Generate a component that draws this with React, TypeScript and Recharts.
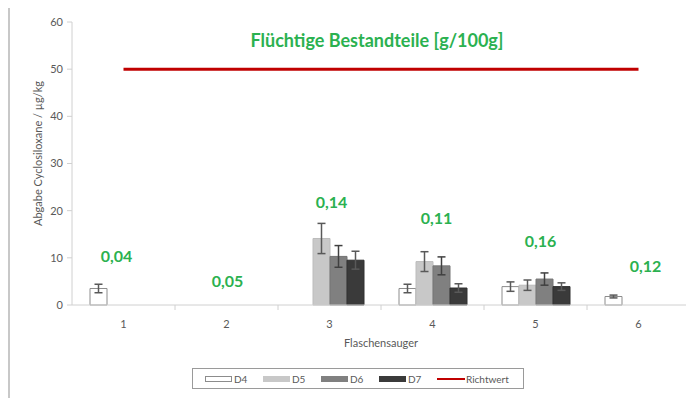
import React from "react";
import {
  Bar,
  ComposedChart,
  ErrorBar,
  LabelList,
  Legend,
  Line,
  XAxis,
  YAxis,
} from "recharts";

const categories = ["1", "2", "3", "4", "5", "6"];
const d4 = [3.5, null, null, 3.5, 3.9, 1.8];
const d4Err = [0.9, null, null, 0.9, 1.0, 0.3];
const d5 = [null, null, 14.1, 9.2, 4.2, null];
const d5Err = [null, null, 3.2, 2.1, 1.1, null];
const d6 = [null, null, 10.3, 8.3, 5.5, null];
const d6Err = [null, null, 2.3, 1.9, 1.3, null];
const d7 = [null, null, 9.5, 3.6, 3.9, null];
const d7Err = [null, null, 1.9, 0.9, 0.8, null];
const richtwert = [50, 50, 50, 50, 50, 50];
const volatiles = ["0,04", "0,05", "0,14", "0,11", "0,16", "0,12"];
const yTicks = [0, 10, 20, 30, 40, 50, 60];

// where the green annotations sit (y in axis units, x nudge in px)
const annoY = [10.4, 5.1, 22.0, 18.5, 13.6, 8.3];
const annoDx = [-7, 1, 2, 4, 5, 7];

const FONT = "Lato, 'Open Sans', sans-serif";
const GREEN = "#2bb150";
const AXIS_TEXT = "#595959";

const rows = categories.map((c, i) => ({
  cat: c,
  d4: d4[i],
  d4Err: d4Err[i],
  d5: d5[i],
  d5Err: d5Err[i],
  d6: d6[i],
  d6Err: d6Err[i],
  d7: d7[i],
  d7Err: d7Err[i],
  richtwert: richtwert[i],
  anno: annoY[i],
  volatile: volatiles[i],
}));

const legendItems = [
  { name: "D4", fill: "#ffffff", stroke: "#8c8c8c" },
  { name: "D5", fill: "#c8c8c8", stroke: "#c8c8c8" },
  { name: "D6", fill: "#808080", stroke: "#808080" },
  { name: "D7", fill: "#3a3a3a", stroke: "#3a3a3a" },
];

function XTick(props: any) {
  const { x, y, payload } = props;
  const half = payload.offset ?? 51.5;
  return (
    <g>
      <line x1={x + half} x2={x + half} y1={y} y2={y + 5} stroke="#d0d0d0" />
      <text
        x={x}
        y={y + 18}
        textAnchor="middle"
        dominantBaseline="central"
        fontSize={11}
        fill={AXIS_TEXT}
        fontFamily={FONT}
      >
        {payload.value}
      </text>
    </g>
  );
}

function AnnoLabel(props: any) {
  const { x, y, value, index } = props;
  return (
    <text
      x={x + annoDx[index]}
      y={y}
      textAnchor="middle"
      dominantBaseline="central"
      fontSize={16}
      fontWeight={700}
      fill={GREEN}
      fontFamily={FONT}
    >
      {value}
    </text>
  );
}

function ChartLegend() {
  return (
    <div
      style={{
        boxSizing: "border-box",
        width: "100%",
        height: "100%",
        border: "1px solid #9a9a9a",
        display: "flex",
        alignItems: "center",
        paddingLeft: 12,
        fontFamily: FONT,
        fontSize: 10,
        color: AXIS_TEXT,
      }}
    >
      {legendItems.map((it) => (
        <div key={it.name} style={{ display: "flex", alignItems: "center", width: 58 }}>
          <span
            style={{
              display: "inline-block",
              boxSizing: "border-box",
              width: 27,
              height: 6,
              background: it.fill,
              border: `1px solid ${it.stroke}`,
              marginRight: 2,
            }}
          />
          {it.name}
        </div>
      ))}
      <div style={{ display: "flex", alignItems: "center" }}>
        <span
          style={{
            display: "inline-block",
            width: 28,
            height: 2,
            background: "#c00000",
            marginRight: 1,
          }}
        />
        Richtwert
      </div>
    </div>
  );
}

export default function App() {
  return (
    <div
      style={{
        position: "relative",
        width: 686,
        height: 392,
        marginTop: -2,
        boxSizing: "border-box",
        borderTop: "2px solid #c8c8c8",
        borderLeft: "2px solid #c8c8c8",
        background: "#fff",
      }}
    >
      <div
        style={{
          position: "absolute",
          left: 167,
          top: 21,
          width: 400,
          textAlign: "center",
          fontFamily: FONT,
          fontWeight: 700,
          fontSize: 18,
          lineHeight: "22px",
          color: GREEN,
        }}
      >
        Flüchtige Bestandteile [g/100g]
      </div>
      <ComposedChart
        width={684}
        height={390}
        data={rows}
        margin={{ top: 14, right: 4, bottom: 43, left: 22 }}
        barSize={17}
        barGap={0}
      >
        <XAxis
          dataKey="cat"
          stroke="#d0d0d0"
          tickLine={false}
          tickSize={0}
          tickMargin={0}
          height={50}
          tick={<XTick />}
          label={{
            content: ({ viewBox }: any) => (
              <text
                x={viewBox.x + viewBox.width / 2}
                y={viewBox.y + 37}
                textAnchor="middle"
                dominantBaseline="central"
                fontSize={11}
                fill={AXIS_TEXT}
                fontFamily={FONT}
              >
                Flaschensauger
              </text>
            ),
          }}
        />
        <YAxis
          domain={[0, 60]}
          ticks={yTicks}
          width={40}
          stroke="#d0d0d0"
          tickSize={5}
          tickMargin={4}
          tick={{ fontSize: 11, fill: AXIS_TEXT, fontFamily: FONT }}
          label={{
            content: ({ viewBox }: any) => {
              const cx = viewBox.x + 5;
              const cy = viewBox.y + viewBox.height / 2 - 10;
              return (
                <text
                  x={cx}
                  y={cy}
                  transform={`rotate(-90 ${cx} ${cy})`}
                  textAnchor="middle"
                  dominantBaseline="central"
                  fontSize={11}
                  fill={AXIS_TEXT}
                  fontFamily={FONT}
                >
                  Abgabe Cyclosiloxane / µg/kg
                </text>
              );
            },
          }}
        />
        <Legend
          layout="horizontal"
          verticalAlign="middle"
          align="center"
          wrapperStyle={{ left: 182, top: 360, width: 332, height: 21 }}
          content={() => <ChartLegend />}
        />
        <Bar dataKey="d4" name="D4" fill="#ffffff" stroke="#8c8c8c" isAnimationActive={false}>
          <ErrorBar dataKey="d4Err" width={4} stroke="#595959" />
        </Bar>
        <Bar dataKey="d5" name="D5" fill="#c8c8c8" stroke="#bcbcbc" isAnimationActive={false}>
          <ErrorBar dataKey="d5Err" width={4} stroke="#595959" />
        </Bar>
        <Bar dataKey="d6" name="D6" fill="#808080" stroke="#747474" isAnimationActive={false}>
          <ErrorBar dataKey="d6Err" width={4} stroke="#404040" />
        </Bar>
        <Bar dataKey="d7" name="D7" fill="#3a3a3a" stroke="#303030" isAnimationActive={false}>
          <ErrorBar dataKey="d7Err" width={4} stroke="#595959" />
        </Bar>
        <Line
          dataKey="richtwert"
          name="Richtwert"
          stroke="#c00000"
          strokeWidth={3}
          dot={false}
          activeDot={false}
          isAnimationActive={false}
        />
        <Line
          dataKey="anno"
          stroke="none"
          dot={false}
          activeDot={false}
          legendType="none"
          isAnimationActive={false}
        >
          <LabelList dataKey="volatile" content={<AnnoLabel />} />
        </Line>
      </ComposedChart>
    </div>
  );
}
